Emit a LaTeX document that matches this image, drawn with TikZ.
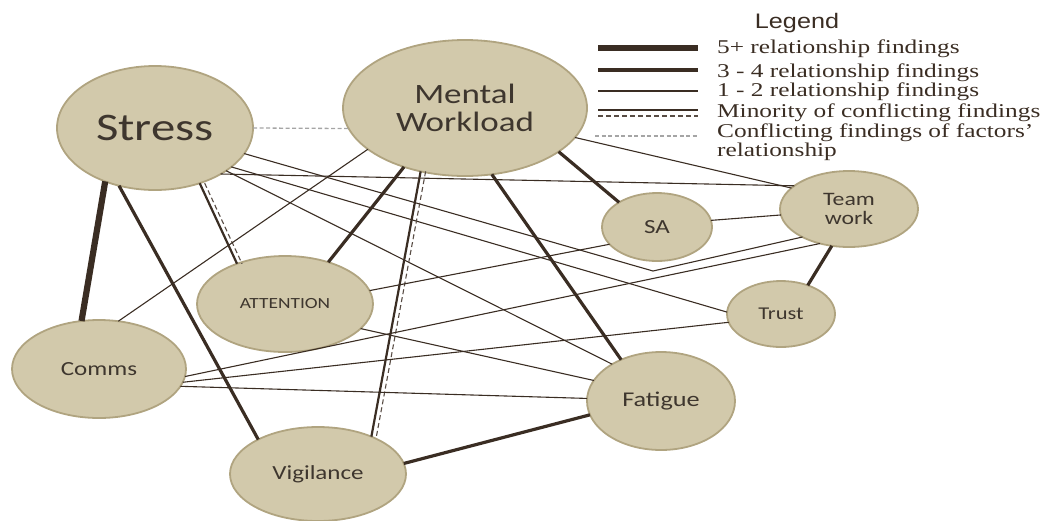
\documentclass[tikz,border=0pt]{standalone}
\usepackage{fontspec}
\setmainfont{Liberation Serif}[FakeStretch=1.3]
\newfontfamily\nodefont{Carlito}[FakeStretch=1.25]
\newfontfamily\legendfont{Liberation Sans}[FakeStretch=1.2]
\usetikzlibrary{shapes.geometric}
\definecolor{nodefill}{RGB}{210,201,171}
\definecolor{nodeedge}{RGB}{176,164,128}
\definecolor{linecol}{RGB}{58,45,35}
\definecolor{txtcol}{RGB}{62,54,46}
\definecolor{confl}{RGB}{165,165,165}
\tikzset{
  factor/.style={ellipse, fill=nodefill, draw=nodeedge, line width=1.8pt, inner sep=0pt, outer sep=0pt, text=txtcol, align=center},
  strong/.style={draw=linecol, line width=6.2pt},
  medium/.style={draw=linecol, line width=3.2pt},
  weak/.style={draw=linecol, line width=1.1pt},
  minsolid/.style={draw=linecol, line width=2.2pt},
  mindash/.style={draw=linecol!85, line width=1.1pt, dash pattern=on 5pt off 3pt},
  dshift/.style={transform canvas={xshift=5pt}},
  conflict/.style={draw=confl, line width=1.3pt, dash pattern=on 4pt off 2.5pt},
  legtext/.style={anchor=base west, inner sep=0pt, text=linecol, font=\fontsize{19.5}{19.5}\selectfont},
}
\begin{document}
\begin{tikzpicture}[x=1pt,y=-1pt]
\useasboundingbox (0,0) rectangle (1048,520);
% factors
\node[factor, minimum width=196pt, minimum height=124pt, font=\nodefont\fontsize{39}{39}\selectfont] (stress) at (155,128) {Stress};
\node[factor, minimum width=244pt, minimum height=136pt, font=\nodefont\fontsize{28}{28}\selectfont] (mw) at (465,108) {Mental\\Workload};
\node[factor, minimum width=110pt, minimum height=68pt, font=\nodefont\fontsize{20}{20}\selectfont] (sa) at (657,227) {SA};
\node[factor, minimum width=138pt, minimum height=76pt, font=\nodefont\fontsize{19}{19}\selectfont] (team) at (849,209) {Team\\work};
\node[factor, minimum width=108pt, minimum height=66pt, font=\nodefont\fontsize{18}{18}\selectfont] (trust) at (781,314) {Trust};
\node[factor, minimum width=148pt, minimum height=98pt, font=\nodefont\fontsize{21}{21}\selectfont] (fatigue) at (661,401) {Fatigue};
\node[factor, minimum width=176pt, minimum height=96pt, font=\nodefont\fontsize{15.5}{15.5}\selectfont] (att) at (285,304) {ATTENTION};
\node[factor, minimum width=174pt, minimum height=98pt, font=\nodefont\fontsize{20}{20}\selectfont] (comms) at (99,369) {Comms};
\node[factor, minimum width=176pt, minimum height=94pt, font=\nodefont\fontsize{20}{20}\selectfont] (vig) at (318,474) {Vigilance};
\coordinate (vpt) at (653,271);
% relationships
\draw[strong] (stress.-133) -- (comms.110);
\draw[medium] (stress.-122) -- (vig.150);
\draw[minsolid] (stress.-51) -- (att.140);
\draw[mindash, dshift] (stress.-51) -- (att.140);
\draw[conflict] (stress.0) -- (mw.-170);
\draw[weak] (stress.-35) -- (team.157);
\draw[weak] (stress.-16) -- (vpt) -- (team.-149);
\draw[weak] (stress.-27) -- (trust.178);
\draw[weak] (stress.-31) -- (fatigue.143);
\draw[medium] (mw.-25) -- (sa.147);
\draw[medium] (mw.-68) -- (fatigue.134);
\draw[minsolid] (mw.-125) -- (vig.35);
\draw[mindash, dshift] (mw.-125) -- (vig.35);
\draw[weak] (mw.-15) -- (team.160);
\draw[medium] (mw.-136) -- (att.44);
\draw[weak] (mw.-157) -- (comms.68);
\draw[weak] (att.9) -- (sa.-160);
\draw[weak] (att.-18) -- (fatigue.163);
\draw[weak] (comms.-5) -- (team.-130);
\draw[weak] (comms.-9) -- (trust.-171);
\draw[weak] (comms.-12) -- (fatigue.178);
\draw[medium] (vig.7) -- (fatigue.-169);
\draw[weak] (sa.7) -- (team.-175);
\draw[medium] (team.-115) -- (trust.47);
% legend
\node[anchor=base, inner sep=0pt, text=linecol, font=\legendfont\fontsize{21}{21}\selectfont] (legtitle) at (797,28) {Legend};
\coordinate (la1) at (598,48);  \coordinate (lb1) at (698,48);
\coordinate (la2) at (598,70);  \coordinate (lb2) at (698,70);
\coordinate (la3) at (598,91);  \coordinate (lb3) at (698,91);
\coordinate (la4) at (598,110); \coordinate (lb4) at (698,110);
\coordinate (la5) at (598,116); \coordinate (lb5) at (698,116);
\coordinate (la6) at (595,136); \coordinate (lb6) at (698,136);
\draw[strong] (la1) -- (lb1);
\draw[medium] (la2) -- (lb2);
\draw[weak] (la3) -- (lb3);
\draw[minsolid] (la4) -- (lb4);
\draw[mindash] (la5) -- (lb5);
\draw[conflict] (la6) -- (lb6);
\node[legtext] (t1) at (717,53) {5+ relationship findings};
\node[legtext] (t2) at (717,77) {3 - 4 relationship findings};
\node[legtext] (t3) at (717,96) {1 - 2 relationship findings};
\node[legtext] (t4) at (717,117) {Minority of conflicting findings};
\node[legtext] (t5) at (717,137) {Conflicting findings of factors'};
\node[legtext] (t6) at (717,156) {relationship};
\end{tikzpicture}
\end{document}
